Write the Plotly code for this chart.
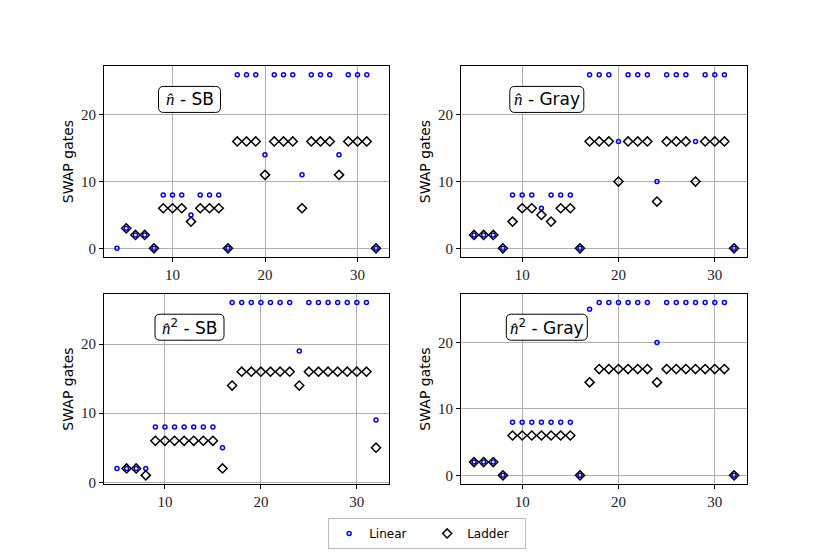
import plotly.graph_objects as go
from plotly.subplots import make_subplots

# n - SB
sb_lin_x = [4, 5, 6, 7, 8, 9, 10, 11, 12, 13, 14, 15, 16, 17, 18, 19, 20, 21, 22, 23, 24, 25, 26, 27, 28, 29, 30, 31, 32]
sb_lin_y = [0, 3, 2, 2, 0, 8, 8, 8, 5, 8, 8, 8, 0, 26, 26, 26, 14, 26, 26, 26, 11, 26, 26, 26, 14, 26, 26, 26, 0]
sb_lad_x = [5, 6, 7, 8, 9, 10, 11, 12, 13, 14, 15, 16, 17, 18, 19, 20, 21, 22, 23, 24, 25, 26, 27, 28, 29, 30, 31, 32]
sb_lad_y = [3, 2, 2, 0, 6, 6, 6, 4, 6, 6, 6, 0, 16, 16, 16, 11, 16, 16, 16, 6, 16, 16, 16, 11, 16, 16, 16, 0]

# n - Gray
gray_x = [5, 6, 7, 8, 9, 10, 11, 12, 13, 14, 15, 16, 17, 18, 19, 20, 21, 22, 23, 24, 25, 26, 27, 28, 29, 30, 31, 32]
gray_lin_y = [2, 2, 2, 0, 8, 8, 8, 6, 8, 8, 8, 0, 26, 26, 26, 16, 26, 26, 26, 10, 26, 26, 26, 16, 26, 26, 26, 0]
gray_lad_y = [2, 2, 2, 0, 4, 6, 6, 5, 4, 6, 6, 0, 16, 16, 16, 10, 16, 16, 16, 7, 16, 16, 16, 10, 16, 16, 16, 0]

# n^2 - SB
sb2_lin_x = [5, 6, 7, 8, 9, 10, 11, 12, 13, 14, 15, 16, 17, 18, 19, 20, 21, 22, 23, 24, 25, 26, 27, 28, 29, 30, 31, 32]
sb2_lin_y = [2, 2, 2, 2, 8, 8, 8, 8, 8, 8, 8, 5, 26, 26, 26, 26, 26, 26, 26, 19, 26, 26, 26, 26, 26, 26, 26, 9]
sb2_lad_x = [6, 7, 8, 9, 10, 11, 12, 13, 14, 15, 16, 17, 18, 19, 20, 21, 22, 23, 24, 25, 26, 27, 28, 29, 30, 31, 32]
sb2_lad_y = [2, 2, 1, 6, 6, 6, 6, 6, 6, 6, 2, 14, 16, 16, 16, 16, 16, 16, 14, 16, 16, 16, 16, 16, 16, 16, 5]

# n^2 - Gray
gray2_lin_y = [2, 2, 2, 0, 8, 8, 8, 8, 8, 8, 8, 0, 25, 26, 26, 26, 26, 26, 26, 20, 26, 26, 26, 26, 26, 26, 26, 0]
gray2_lad_y = [2, 2, 2, 0, 6, 6, 6, 6, 6, 6, 6, 0, 14, 16, 16, 16, 16, 16, 16, 14, 16, 16, 16, 16, 16, 16, 16, 0]

panels = [
    ("<i>n̂</i> - SB", sb_lin_x, sb_lin_y, sb_lad_x, sb_lad_y),
    ("<i>n̂</i> - Gray", gray_x, gray_lin_y, gray_x, gray_lad_y),
    ("<i>n̂</i><sup>2</sup> - SB", sb2_lin_x, sb2_lin_y, sb2_lad_x, sb2_lad_y),
    ("<i>n̂</i><sup>2</sup> - Gray", gray_x, gray2_lin_y, gray_x, gray2_lad_y),
]
box_widths = [62, 74, 69, 81]  # px, rounded label boxes

SANS = "DejaVu Sans"
SERIF = "Liberation Serif"


def padded(vals):
    lo, hi = min(vals), max(vals)
    m = 0.05 * (hi - lo)
    return [lo - m, hi + m]


def rounded_box(w, h, r):
    a, b = w / 2, h / 2
    return (f"M {-a + r},{-b} L {a - r},{-b} Q {a},{-b} {a},{-b + r} "
            f"L {a},{b - r} Q {a},{b} {a - r},{b} L {-a + r},{b} "
            f"Q {-a},{b} {-a},{b - r} L {-a},{-b + r} Q {-a},{-b} {-a + r},{-b} Z")


fig = make_subplots(rows=2, cols=2)

# page body has an 8px margin, so domains are shifted a bit
x_domains = [[0.1157, 0.459], [0.5458, 0.8904]]
y_domains = [[0.5505, 0.8953], [0.1408, 0.4838]]

for i, (label, lx, ly, dx, dy) in enumerate(panels):
    row, col = i // 2 + 1, i % 2 + 1
    fig.add_trace(go.Scatter(
        x=lx, y=ly, mode="markers", name="Linear", showlegend=(i == 0),
        marker=dict(symbol="circle-open", size=4, color="blue", line=dict(width=1.5, color="blue"))
    ), row=row, col=col)
    fig.add_trace(go.Scatter(
        x=dx, y=dy, mode="markers", name="Ladder", showlegend=(i == 0),
        marker=dict(symbol="diamond-open", size=7, color="black", line=dict(width=1.5, color="black"))
    ), row=row, col=col)

    suffix = "" if i == 0 else str(i + 1)
    fig.add_shape(
        type="path", xref="x%s domain" % suffix, yref="y%s domain" % suffix,
        xsizemode="pixel", ysizemode="pixel", xanchor=0.3, yanchor=0.825,
        path=rounded_box(box_widths[i], 26, 5),
        line=dict(color="black", width=1), fillcolor="white", layer="above"
    )
    fig.add_annotation(
        xref="x%s domain" % suffix, yref="y%s domain" % suffix,
        x=0.3, y=0.825, xanchor="center", yanchor="middle", showarrow=False,
        text=label.replace("<i>", "<span style='font-family:%s'><i>" % SERIF).replace("</i>", "</i></span>"),
        font=dict(family=SANS, size=17, color="black")
    )

    fig.update_xaxes(
        domain=x_domains[col - 1], range=padded(lx + dx), dtick=10, tick0=0,
        showgrid=True, gridcolor="#b0b0b0", gridwidth=0.8, zeroline=False,
        showline=True, linecolor="black", linewidth=1, mirror=True,
        ticks="outside", ticklen=4, tickcolor="black", automargin=False,
        tickfont=dict(family=SERIF, size=15, color="#222"),
        row=row, col=col)
    fig.update_yaxes(
        domain=y_domains[row - 1], range=padded(ly + dy), dtick=10, tick0=0,
        showgrid=True, gridcolor="#b0b0b0", gridwidth=0.8, zeroline=False,
        showline=True, linecolor="black", linewidth=1, mirror=True,
        ticks="outside", ticklen=4, tickcolor="black", automargin=False,
        tickfont=dict(family=SERIF, size=15, color="#222"),
        title=dict(text="SWAP gates", font=dict(family=SANS, size=14, color="black"), standoff=4),
        row=row, col=col)

fig.update_layout(
    width=830, height=554,
    margin=dict(l=0, r=0, t=0, b=0),
    plot_bgcolor="white", paper_bgcolor="white",
    legend=dict(
        orientation="h", x=0.505, xanchor="center", y=0.0235, yanchor="bottom",
        bordercolor="#bbbbbb", borderwidth=1, bgcolor="white",
        font=dict(family=SANS, size=12, color="black"),
        itemwidth=30, entrywidth=53, tracegroupgap=0
    ),
)

fig.write_html("out.html")
